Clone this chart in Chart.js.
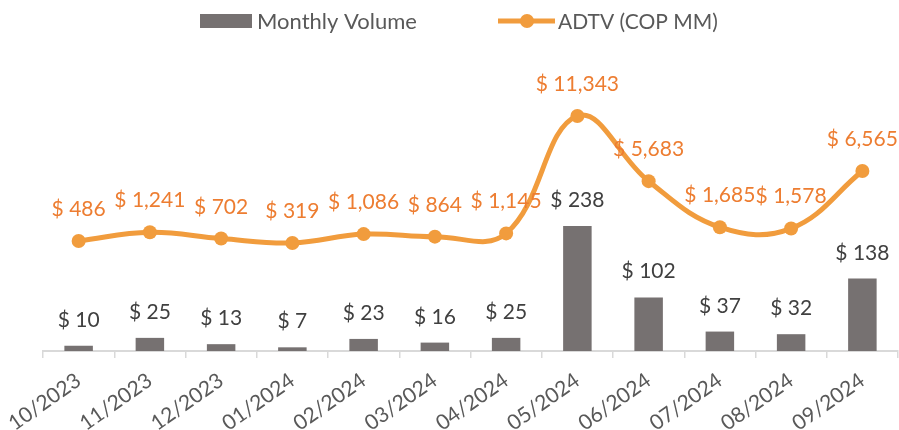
<!DOCTYPE html>
<html>
<head>
<meta charset="utf-8">
<script src="https://cdn.jsdelivr.net/npm/chart.js@4"></script>
<style>
  html, body { margin: 0; padding: 0; background: #fff; }
  canvas { display: block; }
</style>
</head>
<body>
<canvas id="chart" width="899" height="430"></canvas>
<script>
// data
const categories = ["10/2023", "11/2023", "12/2023", "01/2024", "02/2024", "03/2024",
                    "04/2024", "05/2024", "06/2024", "07/2024", "08/2024", "09/2024"];
const monthlyVolume = [10, 25, 13, 7, 23, 16, 25, 238, 102, 37, 32, 138];
const adtv = [486, 1241, 702, 319, 1086, 864, 1145, 11343, 5683, 1685, 1578, 6565];

const FONT = "Lato, 'Open Sans', sans-serif";
const GREY = "#767171";
const ORANGE = "#F19C3D";
const ORANGE_TEXT = "#ED7D31";

const fmt = v => "$ " + v.toLocaleString("en-US");

// value labels above bars and points
const valueLabels = {
  id: "valueLabels",
  afterDatasetsDraw(chart) {
    const ctx = chart.ctx;
    ctx.save();
    ctx.font = "21px " + FONT;
    ctx.textAlign = "center";
    ctx.textBaseline = "alphabetic";
    chart.data.datasets.forEach((ds, i) => {
      const meta = chart.getDatasetMeta(i);
      meta.data.forEach((el, j) => {
        if (ds.type === "bar") {
          ctx.fillStyle = "#404040";
          ctx.fillText(fmt(ds.data[j]), el.x, el.y - 19);
        } else {
          ctx.fillStyle = ORANGE_TEXT;
          ctx.fillText(fmt(ds.data[j]), el.x, el.y - 25);
        }
      });
    });
    ctx.restore();
  }
};

// excel style legend (box + line with marker)
const topLegend = {
  id: "topLegend",
  afterDraw(chart) {
    const ctx = chart.ctx;
    ctx.save();
    ctx.textBaseline = "alphabetic";
    ctx.fillStyle = GREY;
    ctx.fillRect(200, 14, 52, 14);
    ctx.fillStyle = "#595959";
    ctx.font = "22px " + FONT;
    ctx.fillText("Monthly Volume", 257, 29);

    ctx.strokeStyle = ORANGE;
    ctx.lineWidth = 5;
    ctx.beginPath();
    ctx.moveTo(498, 21);
    ctx.lineTo(555, 21);
    ctx.stroke();
    ctx.fillStyle = ORANGE;
    ctx.beginPath();
    ctx.arc(527, 21, 7, 0, Math.PI * 2);
    ctx.fill();
    ctx.fillStyle = "#595959";
    ctx.font = "21px " + FONT;
    ctx.fillText("ADTV (COP MM)", 558, 29);
    ctx.restore();
  }
};

new Chart(document.getElementById("chart"), {
  type: "bar",
  data: {
    labels: categories,
    datasets: [
      {
        type: "line",
        label: "ADTV (COP MM)",
        data: adtv,
        yAxisID: "y1",
        borderColor: ORANGE,
        backgroundColor: ORANGE,
        borderWidth: 5,
        pointRadius: 7,
        pointBackgroundColor: ORANGE,
        pointBorderWidth: 0,
        tension: 0.4,
        order: 1
      },
      {
        type: "bar",
        label: "Monthly Volume",
        data: monthlyVolume,
        yAxisID: "y",
        backgroundColor: GREY,
        barPercentage: 0.4,
        categoryPercentage: 1,
        order: 2
      }
    ]
  },
  options: {
    responsive: false,
    animation: false,
    devicePixelRatio: 1,
    layout: { autoPadding: false, padding: { top: 45, left: 43, right: 1, bottom: 0 } },
    plugins: {
      legend: { display: false },
      tooltip: { enabled: false }
    },
    scales: {
      x: {
        afterFit: scale => {
          scale.height = 79;
          scale.paddingLeft = 0;
          scale.paddingRight = 0;
        },
        grid: {
          display: true,
          offset: true,
          drawOnChartArea: false,
          tickLength: 7,
          color: "#d9d9d9",
          lineWidth: 1.5
        },
        border: { color: "#d9d9d9", width: 2 },
        ticks: {
          color: "#595959",
          font: { family: FONT, size: 21 },
          minRotation: 35,
          maxRotation: 35,
          padding: 10,
          autoSkip: false
        }
      },
      y: { display: false, min: 0, max: 582.6 },
      y1: { display: false, min: -9068, max: 17511 }
    }
  },
  plugins: [valueLabels, topLegend]
});
</script>
</body>
</html>
